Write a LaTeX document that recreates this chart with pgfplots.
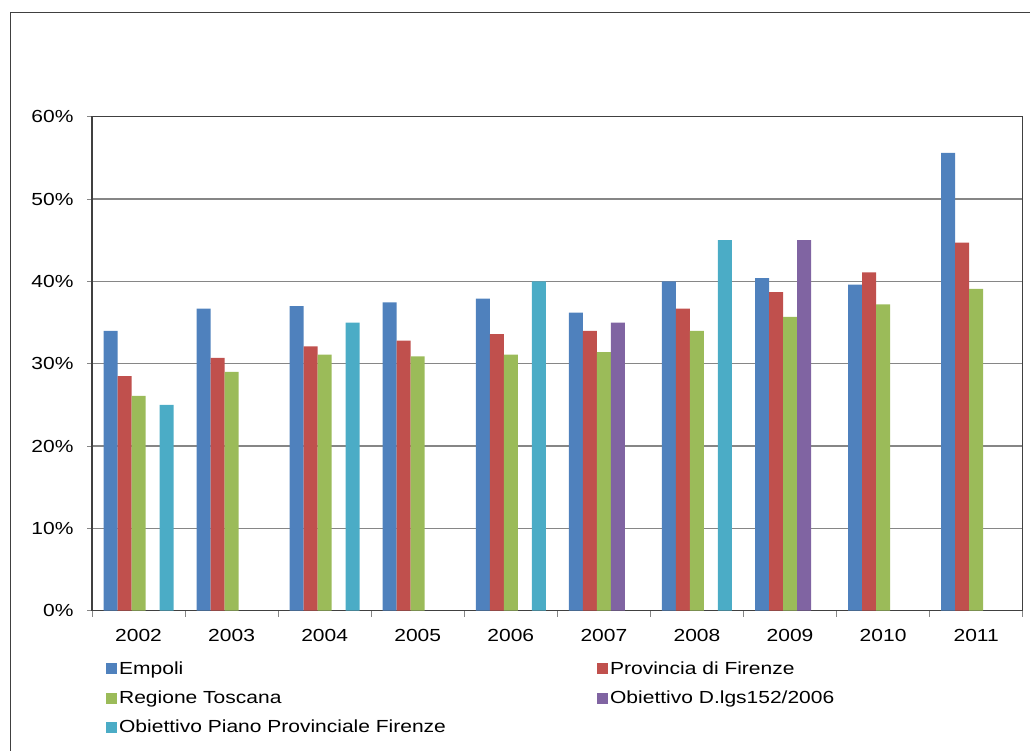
\documentclass[border=0pt]{standalone}
\usepackage{pgfplots}
\pgfplotsset{compat=1.18}
\usepackage{fontspec}
\setmainfont{Liberation Sans}[FakeStretch=1.2]
\newcommand{\fs}{\fontsize{17.5}{21}\selectfont}
\definecolor{cblue}{HTML}{4F81BD}
\definecolor{cred}{HTML}{C0504D}
\definecolor{cgreen}{HTML}{9BBB59}
\definecolor{cpurple}{HTML}{8064A2}
\definecolor{ccyan}{HTML}{4BACC6}
\definecolor{gridc}{HTML}{868686}
\definecolor{framec}{HTML}{404040}
\begin{document}
\begin{tikzpicture}[x=1pt,y=1pt]
\useasboundingbox (0,0) rectangle (1030,751);
\draw[framec, line width=1.4pt] (10.7,-10) -- (10.7,738.3) -- (1040,738.3);
\begin{axis}[
  at={(92pt,140.3pt)}, anchor=south west,
  scale only axis, width=930.7pt, height=494pt,
  xmin=-0.5, xmax=9.5, ymin=0, ymax=60,
  ybar=0pt, bar width=14pt,
  xtick={0,...,9},
  xticklabels={2002,2003,2004,2005,2006,2007,2008,2009,2010,2011},
  minor xtick={-0.5,0.5,...,9.5},
  major x tick style={draw=none},
  ytick={0,10,...,60},
  yticklabels={0\%,10\%,20\%,30\%,40\%,50\%,60\%},
  tick align=outside, major tick length=5pt, minor tick length=6pt,
  xtick pos=bottom, ytick pos=left,
  tick style={gridc, line width=1pt},
  ymajorgrids, grid style={gridc, line width=1.1pt},
  axis line style={framec, line width=1.2pt},
  tick label style={font=\fs, text=black},
  yticklabel style={xshift=-10pt},
  xticklabel style={yshift=-10pt},
  legend columns=2,
  legend style={draw=none, fill=none, font=\fs,
    at={(0.015,-0.099)}, anchor=north west,
    cells={anchor=west}, row sep=11pt, column sep=0pt,
    inner sep=0pt},
  legend image code/.code={\fill[#1,/tikz/.cd,draw=none] (0pt,-5.5pt) rectangle (11pt,5.5pt);},
]
\addplot[fill=cblue, draw=none] coordinates {(0,34.0) (1,36.7) (2,37.0) (3,37.45) (4,37.9) (5,36.2) (6,40.0) (7,40.4) (8,39.6) (9,55.6)};
\addlegendentry{\makebox[476pt][l]{Empoli}}
\addplot[fill=cred, draw=none] coordinates {(0,28.5) (1,30.7) (2,32.1) (3,32.8) (4,33.6) (5,34.0) (6,36.7) (7,38.7) (8,41.1) (9,44.7)};
\addlegendentry{Provincia di Firenze}
\addplot[fill=cgreen, draw=none] coordinates {(0,26.1) (1,29.0) (2,31.1) (3,30.9) (4,31.1) (5,31.4) (6,34.0) (7,35.7) (8,37.2) (9,39.1)};
\addlegendentry{\makebox[476pt][l]{Regione Toscana}}
\addplot[fill=cpurple, draw=none] coordinates {(5,35) (7,45)};
\addlegendentry{Obiettivo D.lgs152/2006}
\addplot[fill=ccyan, draw=none] coordinates {(0,25) (2,35) (4,40) (6,45)};
\addlegendentry{\makebox[476pt][l]{Obiettivo Piano Provinciale Firenze}}
\end{axis}
\end{tikzpicture}
\end{document}
